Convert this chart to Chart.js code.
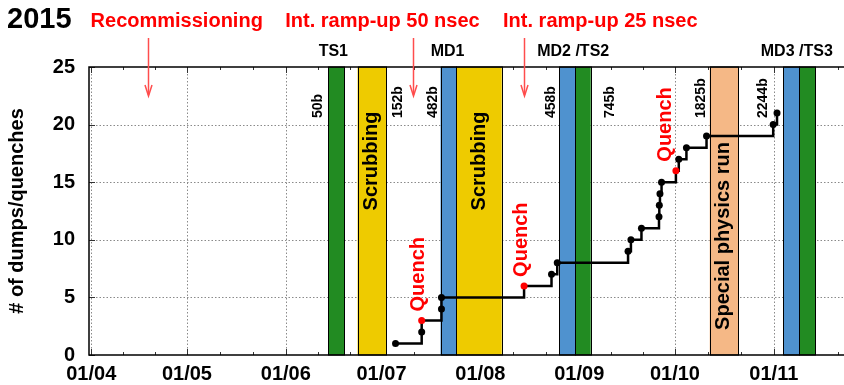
<!DOCTYPE html>
<html><head><meta charset="utf-8">
<script src="https://cdn.jsdelivr.net/npm/chart.js@4/dist/chart.umd.min.js"></script>
<style>html,body{margin:0;padding:0;background:#fff;}canvas{display:block;}</style>
</head><body>
<canvas id="c" width="844" height="385"></canvas>
<script>
// x values are days counted from 1 April 2015
const monthTickDays = [0, 30, 61, 91, 122, 153, 183, 214];
const monthTickLabels = ['01/04', '01/05', '01/06', '01/07', '01/08', '01/09', '01/10', '01/11'];
const countTicks = [0, 5, 10, 15, 20, 25];

const eventDays = [95.4, 103.6, 103.6, 109.8, 109.8, 135.7, 144.3, 146.1, 168.3, 169.2, 172.5, 178.0, 178.1, 178.3, 178.8, 183.3, 184.2, 186.6, 192.9, 213.8, 215.0];
const eventCounts = [1, 2, 3, 4, 5, 6, 7, 8, 9, 10, 11, 12, 13, 14, 15, 16, 17, 18, 19, 20, 21];
const eventIsQuench = [false, false, true, false, false, true, false, false, false, false, false, false, false, false, false, true, false, false, false, false, false];

const periodStart = [74.3, 83.5, 109.5, 114.5, 146.7, 151.7, 193.9, 216.9, 221.9];
const periodEnd   = [79.3, 92.4, 114.5, 128.7, 151.7, 156.6, 202.8, 221.9, 227.0];
const periodKind  = ['TS', 'Scrubbing', 'MD', 'Scrubbing', 'MD', 'TS', 'Special', 'MD', 'TS'];
const periodText  = ['', 'Scrubbing', '', 'Scrubbing', '', '', 'Special physics run', '', ''];

const stopLabels = ['TS1', 'MD1', 'MD2 /TS2', 'MD3 /TS3'];
const stopLabelDays = [75.9, 111.7, 151.1, 221.2];

const bunchLabels = ['50b', '152b', '482b', '458b', '745b', '1825b', '2244b'];
const bunchDays = [71.2, 96.2, 107.2, 144.3, 162.6, 191.3, 210.7];

const phaseLabels = ['Recommissioning', 'Int. ramp-up 50 nsec', 'Int. ramp-up 25 nsec'];
const phaseLabelDays = [26.8, 91.3, 159.6];
const phaseArrowDays = [17.9, 100.9, 135.7];

// ---------- styling ----------
const kindColor = {TS: '#228b22', Scrubbing: '#eecb00', MD: '#4f92cf', Special: '#f5b886'};
const quenchDx = [-3, -3, -10];
const BOLD = 'bold 20px "Liberation Sans", Arial, sans-serif';

function rotText(ctx, text, x, y, align) {
  ctx.save();
  ctx.translate(x, y);
  ctx.rotate(-Math.PI / 2);
  ctx.textAlign = align;
  ctx.textBaseline = 'middle';
  ctx.fillText(text, 0, 0);
  ctx.restore();
}

const decor = {
  id: 'decor',
  beforeDatasetsDraw(chart) {
    const {ctx, chartArea: a, scales: {x, y}} = chart;
    ctx.save();
    // grid
    ctx.strokeStyle = '#8a8a8a';
    ctx.lineWidth = 1;
    ctx.setLineDash([1.5, 2]);
    monthTickDays.forEach(d => {
      const px = Math.round(x.getPixelForValue(d)) + 0.5;
      if (px <= a.left + 2) return;
      ctx.beginPath(); ctx.moveTo(px, a.top); ctx.lineTo(px, a.bottom); ctx.stroke();
    });
    countTicks.forEach(v => {
      if (v === 0 || v === 25) return;
      const py = Math.round(y.getPixelForValue(v)) + 0.5;
      ctx.beginPath(); ctx.moveTo(a.left, py); ctx.lineTo(a.right, py); ctx.stroke();
    });
    ctx.setLineDash([]);
    // ticks (inward, mirrored)
    ctx.strokeStyle = '#333';
    ctx.lineWidth = 1;
    for (let i = 0; i < monthTickDays.length; i++) {
      const d0 = monthTickDays[i];
      const d1 = i + 1 < monthTickDays.length ? monthTickDays[i + 1] : d0 + 30;
      const marks = [[d0, 6], [d0 + (d1 - d0) / 3, 3], [d0 + 2 * (d1 - d0) / 3, 3]];
      marks.forEach(([d, len]) => {
        const px = Math.round(x.getPixelForValue(d)) + 0.5;
        if (px < a.left || px > a.right) return;
        ctx.beginPath();
        ctx.moveTo(px, a.bottom); ctx.lineTo(px, a.bottom - len);
        ctx.moveTo(px, a.top); ctx.lineTo(px, a.top + len);
        ctx.stroke();
      });
    }
    countTicks.forEach(v => {
      const py = Math.round(y.getPixelForValue(v)) + 0.5;
      ctx.beginPath(); ctx.moveTo(a.left, py); ctx.lineTo(a.left + 6, py); ctx.stroke();
    });
    // bands
    for (let i = 0; i < periodStart.length; i++) {
      const x0 = x.getPixelForValue(periodStart[i]);
      const x1 = x.getPixelForValue(periodEnd[i]);
      ctx.fillStyle = kindColor[periodKind[i]];
      ctx.fillRect(x0, a.top, x1 - x0, a.bottom - a.top);
      ctx.strokeStyle = '#000';
      ctx.lineWidth = 1;
      ctx.strokeRect(Math.round(x0) + 0.5, a.top, Math.round(x1) - Math.round(x0), a.bottom - a.top);
    }
    // band texts
    ctx.fillStyle = '#000';
    ctx.font = BOLD;
    for (let i = 0; i < periodStart.length; i++) {
      if (!periodText[i]) continue;
      const cx = (x.getPixelForValue(periodStart[i]) + x.getPixelForValue(periodEnd[i])) / 2;
      const cy = periodKind[i] === 'Special' ? 236 : 161;
      rotText(ctx, periodText[i], cx, cy, 'center');
    }
    // bunch labels
    ctx.font = 'bold 14px "Liberation Sans", Arial, sans-serif';
    bunchLabels.forEach((t, i) => rotText(ctx, t, x.getPixelForValue(bunchDays[i]), 118, 'left'));
    ctx.restore();
  },
  afterDatasetsDraw(chart) {
    const {ctx, chartArea: a, scales: {x, y}} = chart;
    ctx.save();
    // frame
    ctx.strokeStyle = '#000';
    ctx.lineWidth = 1.5;
    ctx.beginPath();
    ctx.moveTo(a.right + 2, a.top); ctx.lineTo(a.left, a.top); ctx.lineTo(a.left, a.bottom); ctx.lineTo(a.right + 2, a.bottom);
    ctx.stroke();
    // quench labels
    ctx.fillStyle = '#ff0000';
    ctx.font = BOLD;
    let q = 0;
    eventIsQuench.forEach((isQ, i) => {
      if (!isQ) return;
      const px = x.getPixelForValue(eventDays[i]) + quenchDx[q++];
      const py = y.getPixelForValue(eventCounts[i]) - 9;
      rotText(ctx, 'Quench', px, py, 'left');
    });
    // title and top labels
    ctx.fillStyle = '#000';
    ctx.font = 'bold 29px "Liberation Sans", Arial, sans-serif';
    ctx.textAlign = 'left';
    ctx.textBaseline = 'alphabetic';
    ctx.fillText('2015', 7, 28);
    ctx.font = 'bold 16px "Liberation Sans", Arial, sans-serif';
    ctx.textAlign = 'center';
    stopLabels.forEach((t, i) => ctx.fillText(t, x.getPixelForValue(stopLabelDays[i]), 55.5));
    ctx.fillStyle = '#ff0000';
    ctx.font = BOLD;
    phaseLabels.forEach((t, i) => ctx.fillText(t, x.getPixelForValue(phaseLabelDays[i]), 27));
    // arrows
    ctx.strokeStyle = '#ff4d4d';
    ctx.lineWidth = 1.5;
    phaseArrowDays.forEach(d => {
      const px = Math.round(x.getPixelForValue(d)) + 0.5;
      ctx.beginPath(); ctx.moveTo(px, 38); ctx.lineTo(px, 95); ctx.stroke();
      ctx.beginPath(); ctx.moveTo(px - 3.5, 85); ctx.lineTo(px, 96); ctx.lineTo(px + 3.5, 85); ctx.stroke();
    });
    ctx.restore();
  }
};

new Chart(document.getElementById('c'), {
  type: 'line',
  data: {
    datasets: [{
      data: eventDays.map((d, i) => ({x: d, y: eventCounts[i]})),
      borderColor: '#000',
      borderWidth: 2.5,
      stepped: true,
      pointRadius: 3.5,
      pointBorderWidth: 0,
      pointBackgroundColor: eventIsQuench.map(q => q ? '#ff0000' : '#000'),
      pointBorderColor: eventIsQuench.map(q => q ? '#ff0000' : '#000'),
      fill: false
    }]
  },
  options: {
    responsive: false,
    devicePixelRatio: 1,
    animation: false,
    events: [],
    layout: {autoPadding: false, padding: {left: 0, right: 0, top: 67, bottom: 0}},
    plugins: {legend: {display: false}, tooltip: {enabled: false}},
    scales: {
      x: {
        type: 'linear',
        min: -0.7,
        max: 236,
        grid: {display: false, drawTicks: false},
        border: {display: false},
        afterBuildTicks: s => { s.ticks = monthTickDays.map(v => ({value: v})); },
        afterFit: s => { s.height = 30; },
        ticks: {
          autoSkip: false, maxRotation: 0, padding: 7, color: '#000',
          font: {family: '"Liberation Sans", Arial, sans-serif', weight: 'bold', size: 20},
          callback: (v, i) => monthTickLabels[i]
        }
      },
      y: {
        min: 0,
        max: 25,
        grid: {display: false, drawTicks: false},
        border: {display: false},
        afterBuildTicks: s => { s.ticks = countTicks.map(v => ({value: v})); },
        afterFit: s => { s.width = 89; },
        ticks: {
          padding: 14, color: '#000',
          font: {family: '"Liberation Sans", Arial, sans-serif', weight: 'bold', size: 20}
        },
        title: {
          display: true, text: '# of dumps/quenches', color: '#000',
          padding: {top: 5, bottom: 0},
          font: {family: '"Liberation Sans", Arial, sans-serif', weight: 'bold', size: 20, lineHeight: 1.2}
        }
      }
    }
  },
  plugins: [decor]
});
</script>
</body></html>
